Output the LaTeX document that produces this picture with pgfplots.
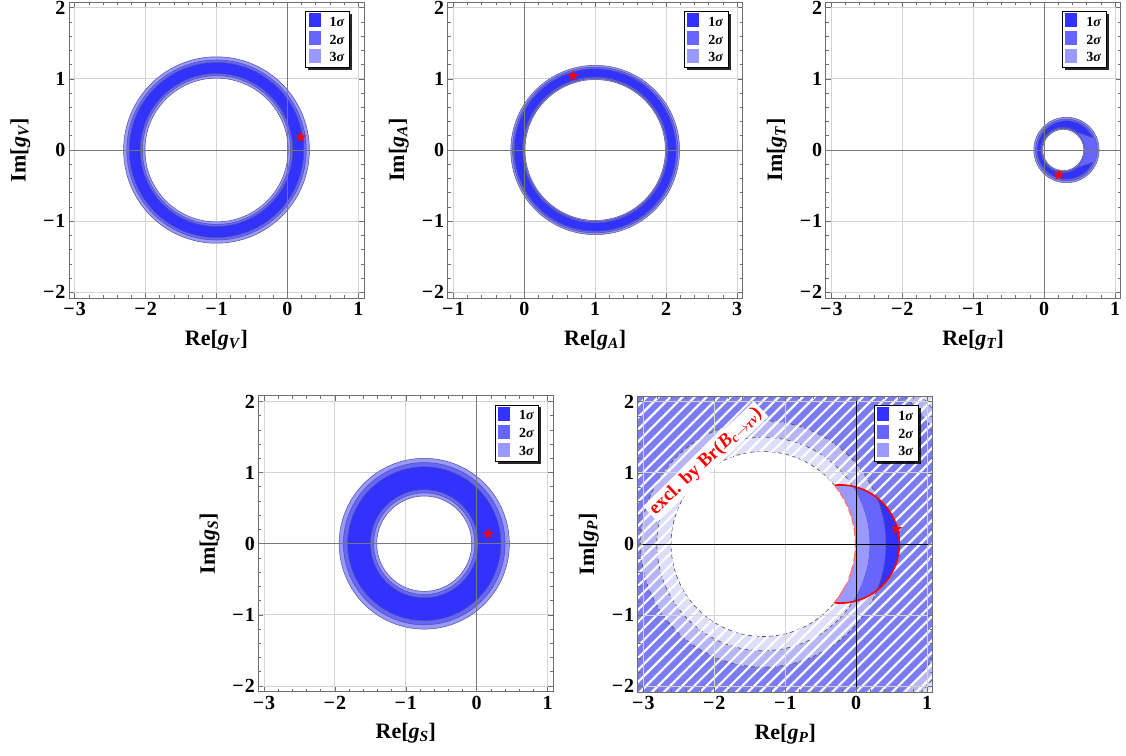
\documentclass[border=0pt]{standalone}
\usepackage{pgfplots}
\pgfplotsset{compat=1.18}
\usetikzlibrary{patterns.meta,shadows}
\usepackage{fontspec}
\setmainfont{Liberation Serif}

\definecolor{s1}{RGB}{50,50,255}
\definecolor{s2}{RGB}{102,102,255}
\definecolor{s3}{RGB}{153,153,255}
\definecolor{w1}{RGB}{124,124,242}
\definecolor{w2}{RGB}{182,182,246}
\definecolor{w3}{RGB}{222,222,250}
\definecolor{ringedge}{RGB}{80,80,150}
\definecolor{framecol}{RGB}{110,110,110}
\definecolor{gridcol}{RGB}{212,212,212}
\definecolor{axiscol}{RGB}{120,120,120}

\makeatletter
\tikzset{no preactions/.code={\let\tikz@preactions\pgfutil@empty}}
\makeatother

\pgfdeclareplotmark{fstar}{%
 \pgfpathmoveto{\pgfpoint{0pt}{6pt}}%
 \pgfpathlineto{\pgfpoint{1.411pt}{1.942pt}}%
 \pgfpathlineto{\pgfpoint{5.706pt}{1.854pt}}%
 \pgfpathlineto{\pgfpoint{2.283pt}{-0.742pt}}%
 \pgfpathlineto{\pgfpoint{3.527pt}{-4.854pt}}%
 \pgfpathlineto{\pgfpoint{0pt}{-2.4pt}}%
 \pgfpathlineto{\pgfpoint{-3.527pt}{-4.854pt}}%
 \pgfpathlineto{\pgfpoint{-2.283pt}{-0.742pt}}%
 \pgfpathlineto{\pgfpoint{-5.706pt}{1.854pt}}%
 \pgfpathlineto{\pgfpoint{-1.411pt}{1.942pt}}%
 \pgfpathclose
 \pgfusepathqfill}

% annulus: options, outer centre x,y, outer radius, inner centre x,y, inner radius
\newcommand{\ring}[7]{\path[even odd rule, draw=ringedge, line width=0.5pt, #1] (axis cs:#2,#3) circle[radius=#4] (axis cs:#5,#6) circle[radius=#7];}

\newcommand{\sigmalegend}{%
 \addlegendimage{legend image code/.code={\path[draw=none, no preactions] (0pt,-5pt) rectangle (19pt,9pt);\path[draw=none, no preactions, fill=s1] (0pt,-5pt) rectangle (12pt,9pt);}}
 \addlegendentry{1\textit{σ}}
 \addlegendimage{legend image code/.code={\path[draw=none, no preactions] (0pt,-5pt) rectangle (19pt,9pt);\path[draw=none, no preactions, fill=s2] (0pt,-5pt) rectangle (12pt,9pt);}}
 \addlegendentry{2\textit{σ}}
 \addlegendimage{legend image code/.code={\path[draw=none, no preactions] (0pt,-5pt) rectangle (19pt,9pt);\path[draw=none, no preactions, fill=s3] (0pt,-5pt) rectangle (12pt,9pt);}}
 \addlegendentry{3\textit{σ}}
}

\pgfplotsset{
 panel/.style={
  scale only axis, width=295pt, height=296pt,
  ymin=-2.08, ymax=2.08,
  ytick={-2,-1,0,1,2}, yticklabels={−\kern1pt2,−\kern1pt1,0,1,2},
  minor x tick num=4, minor y tick num=4,
  tick align=inside,
  major tick length=5pt, minor tick length=3pt,
  every tick/.style={framecol, line width=0.6pt},
  axis line style={framecol, line width=0.8pt},
  grid=major, major grid style={gridcol, line width=0.8pt},
  tick label style={font=\bfseries\fontsize{20}{20}\selectfont},
  label style={font=\bfseries\fontsize{22}{22}\selectfont},
  xticklabel style={yshift=-1pt},
  xlabel shift=7pt, ylabel shift=6pt,
  legend cell align=left,
  legend style={at={(rel axis cs:0.9525,0.97)}, anchor=north east, draw=black,
    line width=0.8pt, fill=white, font=\bfseries\fontsize{14}{14}\selectfont,
    inner xsep=3pt, inner ysep=2pt, row sep=1.5pt,
    drop shadow={shadow xshift=2.5pt, shadow yshift=-2.5pt, fill=black, opacity=0.85}},
 },
 leftrange/.style={xmin=-3.08, xmax=1.08, xtick={-3,-2,-1,0,1}, xticklabels={−\kern1pt3,−\kern1pt2,−\kern1pt1,0,1}},
}

\begin{document}
\begin{tikzpicture}
\path[use as bounding box] (0,0) rectangle (1126pt,-755pt);

% ---------- g_V ----------
\begin{axis}[panel, leftrange, at={(69pt,-2pt)}, anchor=north west,
  xlabel={Re[\textit{g}\textsubscript{\textit{V}}]}, ylabel={Im[\textit{g}\textsubscript{\textit{V}}]}]
\sigmalegend
\ring{fill=s3}{-1}{0}{1.31}{-1}{0}{1.01}
\ring{fill=s2}{-1}{0}{1.265}{-1}{0}{1.045}
\ring{fill=s1}{-1}{0}{1.23}{-1}{0}{1.075}
\draw[axiscol, line width=0.9pt] (axis cs:0,-2.08) -- (axis cs:0,2.08);
\draw[axiscol, line width=0.9pt] (axis cs:-3.08,0) -- (axis cs:1.08,0);
\addplot[only marks, mark=fstar, red] coordinates {(0.19,0.18)};
\end{axis}

% ---------- g_A ----------
\begin{axis}[panel, at={(447.7pt,-2pt)}, anchor=north west,
  xmin=-1.08, xmax=3.08, xtick={-1,0,1,2,3}, xticklabels={−\kern1pt1,0,1,2,3},
  xlabel={Re[\textit{g}\textsubscript{\textit{A}}]}, ylabel={Im[\textit{g}\textsubscript{\textit{A}}]}]
\sigmalegend
\ring{fill=s3}{1}{0}{1.19}{1}{0}{0.99}
\ring{fill=s2}{1}{0}{1.165}{1}{0}{1.005}
\ring{fill=s1}{1}{0}{1.14}{1}{0}{1.025}
\draw[axiscol, line width=0.9pt] (axis cs:0,-2.08) -- (axis cs:0,2.08);
\draw[axiscol, line width=0.9pt] (axis cs:-1.08,0) -- (axis cs:3.08,0);
\addplot[only marks, mark=fstar, red] coordinates {(0.69,1.04)};
\end{axis}

% ---------- g_T ----------
\begin{axis}[panel, leftrange, at={(825.7pt,-2pt)}, anchor=north west,
  xlabel={Re[\textit{g}\textsubscript{\textit{T}}]}, ylabel={Im[\textit{g}\textsubscript{\textit{T}}]}]
\sigmalegend
\ring{fill=s3}{0.315}{0}{0.46}{0.27}{0}{0.29}
\ring{fill=s2}{0.315}{0}{0.435}{0.27}{0}{0.305}
\begin{scope}
\clip (axis cs:0.30,0) -- (axis cs:0.40,0.271) -- (axis cs:0.80,0.135) -- (axis cs:0.80,2) -- (axis cs:-1,2) -- (axis cs:-1,-2) -- (axis cs:0.80,-2) -- (axis cs:0.80,-0.135) -- (axis cs:0.40,-0.271) -- cycle;
\ring{fill=s1}{0.315}{0}{0.41}{0.27}{0}{0.32}
\end{scope}
\draw[ringedge, line width=0.5pt] (axis cs:0.476,0.245) -- (axis cs:0.687,0.173);
\draw[ringedge, line width=0.5pt] (axis cs:0.476,-0.245) -- (axis cs:0.687,-0.173);
\draw[axiscol, line width=0.9pt] (axis cs:0,-2.08) -- (axis cs:0,2.08);
\draw[axiscol, line width=0.9pt] (axis cs:-3.08,0) -- (axis cs:1.08,0);
\addplot[only marks, mark=fstar, red] coordinates {(0.21,-0.35)};
\end{axis}

% ---------- g_S ----------
\begin{axis}[panel, leftrange, at={(258.3pt,-395.7pt)}, anchor=north west,
  xlabel={Re[\textit{g}\textsubscript{\textit{S}}]}, ylabel={Im[\textit{g}\textsubscript{\textit{S}}]}]
\sigmalegend
\ring{fill=s3}{-0.74}{0}{1.2}{-0.74}{0}{0.67}
\ring{fill=s2}{-0.74}{0}{1.14}{-0.74}{0}{0.715}
\ring{fill=s1}{-0.74}{0}{1.08}{-0.74}{0}{0.76}
\draw[axiscol, line width=0.9pt] (axis cs:0,-2.08) -- (axis cs:0,2.08);
\draw[axiscol, line width=0.9pt] (axis cs:-3.08,0) -- (axis cs:1.08,0);
\addplot[only marks, mark=fstar, red] coordinates {(0.16,0.14)};
\end{axis}

% ---------- g_P ----------
\begin{axis}[panel, leftrange, at={(637.7pt,-396pt)}, anchor=north west, axis on top,
  extra x ticks={0}, extra y ticks={0}, extra x tick labels={}, extra y tick labels={},
  extra tick style={grid=major, major grid style={black, line width=0.9pt}},
  xlabel={Re[\textit{g}\textsubscript{\textit{P}}]}, ylabel={Im[\textit{g}\textsubscript{\textit{P}}]},
  after end axis/.code={
    \node[rotate=43.5, fill=white, text=red, font=\bfseries\fontsize{19}{19}\selectfont,
      inner xsep=3pt, inner ysep=2pt] at (axis cs:-2.12,1.16)
      {excl. by Br(\textit{B}\textsubscript{\textit{c}$\rightarrow$\textit{τν}})};
  }]
\sigmalegend
% washed (excluded) contour bands
\path[fill=w3, even odd rule] (axis cs:-3.08,-2.08) rectangle (axis cs:1.08,2.08) (axis cs:-1.31,0) circle[radius=3.05];
\ring{fill=w2, draw=none}{-1.31}{0}{3.05}{-1.31}{0}{2.88}
\ring{fill=w1, draw=none}{-1.31}{0}{2.88}{-1.31}{0}{1.73}
\ring{fill=w2, draw=none}{-1.31}{0}{1.73}{-1.31}{0}{1.5}
\ring{fill=w3, draw=none}{-1.31}{0}{1.5}{-1.31}{0}{1.3}
\draw[gray!55!black, line width=0.6pt, dash pattern=on 4pt off 3pt] (axis cs:-1.31,0) circle[radius=1.3];
\draw[gray!55!black, line width=0.6pt, dash pattern=on 4pt off 3pt] (axis cs:-1.31,0) circle[radius=1.5];
\draw[gray!55!black, line width=0.6pt, dash pattern=on 4pt off 3pt] (axis cs:-1.31,0) circle[radius=1.73];
\draw[gray!55!black, line width=0.6pt, dash pattern=on 4pt off 3pt] (axis cs:-1.31,0) circle[radius=2.88];
\draw[gray!55!black, line width=0.6pt, dash pattern=on 4pt off 3pt] (axis cs:-1.31,0) circle[radius=3.05];
% allowed crescent
\begin{scope}
\clip (axis cs:-0.22,0) circle[radius=0.83];
\ring{fill=s1}{-1.31}{0}{3.5}{-1.31}{0}{1.73}
\ring{fill=s2}{-1.31}{0}{1.73}{-1.31}{0}{1.5}
\ring{fill=s3, draw=none}{-1.31}{0}{1.5}{-1.31}{0}{1.3}
\draw[red!55!white, line width=1.3pt] (axis cs:-1.31,0) circle[radius=1.3];
\end{scope}
% hatching of the excluded region
\path[pattern={Lines[angle=45, distance=8.5pt, line width=2.2pt]}, pattern color=white, even odd rule]
  (axis cs:-3.08,-2.08) rectangle (axis cs:1.08,2.08) (axis cs:-0.22,0) circle[radius=0.83] (axis cs:-1.31,0) circle[radius=1.3];
\begin{scope}
\clip (axis cs:-0.306,-2.08) rectangle (axis cs:1.08,2.08);
\draw[red, line width=1.6pt] (axis cs:-0.22,0) circle[radius=0.83];
\end{scope}
\addplot[only marks, mark=fstar, red] coordinates {(0.57,0.21)};
\end{axis}

\end{tikzpicture}
\end{document}
